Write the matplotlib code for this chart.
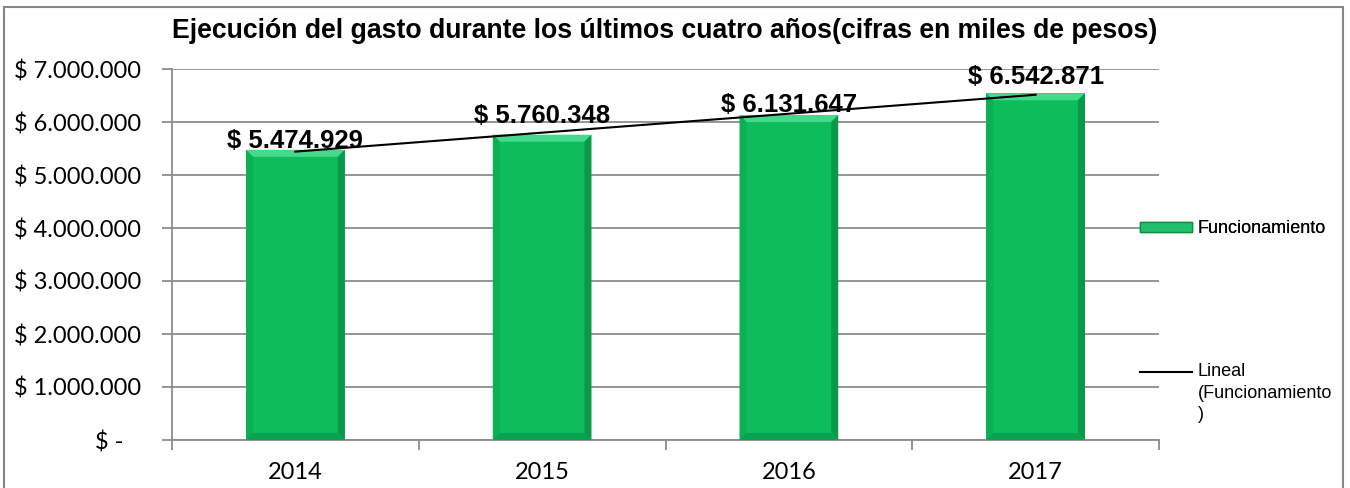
import matplotlib
matplotlib.use('Agg')
import matplotlib.pyplot as plt
import numpy as np
from matplotlib.patches import Polygon, Rectangle, Patch
from matplotlib.lines import Line2D
from matplotlib.legend_handler import HandlerLine2D

# ---- data ----
years = ['2014', '2015', '2016', '2017']
funcionamiento = [5474929, 5760348, 6131647, 6542871]
value_labels = ['$ 5.474.929', '$ 5.760.348', '$ 6.131.647', '$ 6.542.871']
y_ticks = [0, 1000000, 2000000, 3000000, 4000000, 5000000, 6000000, 7000000]
y_tick_labels = ['$ -   ', '$ 1.000.000', '$ 2.000.000', '$ 3.000.000',
                 '$ 4.000.000', '$ 5.000.000', '$ 6.000.000', '$ 7.000.000']
title = 'Ejecución del gasto durante los últimos cuatro años(cifras en miles de pesos)'
series_name = 'Funcionamiento'
trend_name = 'Lineal\n(Funcionamiento\n)'

# label vertical offsets (points) above bar tops
label_offsets = [1.5, 8.5, 2.5, 6.5]

W, H = 1350, 488
fig = plt.figure(figsize=(W / 100, H / 100), dpi=100)
ax = fig.add_axes([172 / W, 48 / H, (1159 - 172) / W, (440 - 69) / H])

x = np.arange(len(years))
face = '#0dbd5b'
bars = ax.bar(x, funcionamiento, width=0.4, color=face, zorder=3)
ax.set_xlim(-0.5, len(years) - 0.5)
ax.set_ylim(0, 7000000)

# bevel effect
fig.canvas.draw()
bb = ax.get_window_extent()
px_x = (ax.get_xlim()[1] - ax.get_xlim()[0]) / bb.width
px_y = (ax.get_ylim()[1] - ax.get_ylim()[0]) / bb.height
bev = 7
dx, dy = bev * px_x, bev * px_y
for b in bars:
    x0, y0 = b.get_x(), b.get_y()
    x1, y1 = x0 + b.get_width(), y0 + b.get_height()
    polys = [
        ([(x0, y1), (x1, y1), (x1 - dx, y1 - dy), (x0 + dx, y1 - dy)], '#45d98c'),
        ([(x0, y0), (x0, y1), (x0 + dx, y1 - dy), (x0 + dx, y0 + dy)], '#0bb055'),
        ([(x1, y0), (x1, y1), (x1 - dx, y1 - dy), (x1 - dx, y0 + dy)], '#099a49'),
        ([(x0, y0), (x1, y0), (x1 - dx, y0 + dy), (x0 + dx, y0 + dy)], '#0aa24e'),
    ]
    for pts, c in polys:
        ax.add_patch(Polygon(pts, closed=True, facecolor=c, edgecolor='none', zorder=4))

# trend line (linear fit)
coef = np.polyfit(x, funcionamiento, 1)
trend = np.polyval(coef, x)
ax.plot(x, trend, color='black', lw=1.5, zorder=6)

# value labels
for xi, v, lab, off in zip(x, funcionamiento, value_labels, label_offsets):
    ax.annotate(lab, (xi, v), xytext=(0, off), textcoords='offset points',
                ha='center', va='baseline', fontsize=18.5, fontweight='bold',
                family='Liberation Sans', color='black', zorder=7)

# axes styling
grid_c = '#8c8c8c'
ax.set_yticks(y_ticks)
ax.set_yticklabels(y_tick_labels, family='Lato', fontsize=17)
ax.yaxis.grid(True, color=grid_c, lw=1.3, zorder=0)
ax.set_xticks(x)
ax.set_xticklabels(years, family='Lato', fontsize=17)
ax.set_xticks(np.arange(-0.5, len(years)), minor=True)
ax.tick_params(axis='x', which='major', length=0, pad=16)
ax.tick_params(axis='x', which='minor', length=7, color=grid_c, width=1.3)
ax.tick_params(axis='y', length=7, color=grid_c, width=1.3, pad=15)
for s in ['top', 'right']:
    ax.spines[s].set_visible(False)
for s in ['left', 'bottom']:
    ax.spines[s].set_color(grid_c)
    ax.spines[s].set_linewidth(1.3)

# title
fig.text(665 / W, 1 - 31 / H, title, ha='center', va='center', fontsize=19.2,
         fontweight='bold', family='Liberation Sans')


# legend handler that puts the line at the first text line
class TopLine(HandlerLine2D):
    def __init__(self, shift, **kw):
        super().__init__(**kw)
        self.shift = shift

    def create_artists(self, legend, orig_handle, xdescent, ydescent,
                       width, height, fontsize, trans):
        arts = super().create_artists(legend, orig_handle, xdescent, ydescent,
                                      width, height, fontsize, trans)
        for a in arts:
            a.set_ydata(np.asarray(a.get_ydata(), dtype=float) + self.shift)
        return arts


leg_font = {'family': 'Liberation Sans', 'size': 13}
leg1 = fig.legend(handles=[Patch(facecolor='#1fc26a', edgecolor='#0a8f44', lw=1)],
                  labels=[series_name], loc='center left',
                  bbox_to_anchor=(1140 / W, 1 - 229 / H), frameon=False,
                  prop=leg_font,
                  handlelength=2.9, handleheight=0.45, handletextpad=0.3,
                  borderpad=0, borderaxespad=0)
fig.add_artist(leg1)
trend_handle = Line2D([], [], color='black', lw=1.5)
leg2 = fig.legend(handles=[trend_handle],
                  labels=[trend_name], loc='upper left',
                  bbox_to_anchor=(1140 / W, 1 - 363 / H), frameon=False,
                  prop=leg_font, handler_map={trend_handle: TopLine(15.5)},
                  handlelength=2.9, handletextpad=0.3,
                  borderpad=0, borderaxespad=0)
for t in leg2.get_texts():
    t.set_linespacing(1.35)

# outer border
fig.add_artist(Rectangle((4 / W, -0.05), (1343 - 4) / W, 1.05 - 7 / H,
                         transform=fig.transFigure, fill=False,
                         edgecolor='#868686', lw=1.5))

fig.savefig('out.png', dpi=100)
